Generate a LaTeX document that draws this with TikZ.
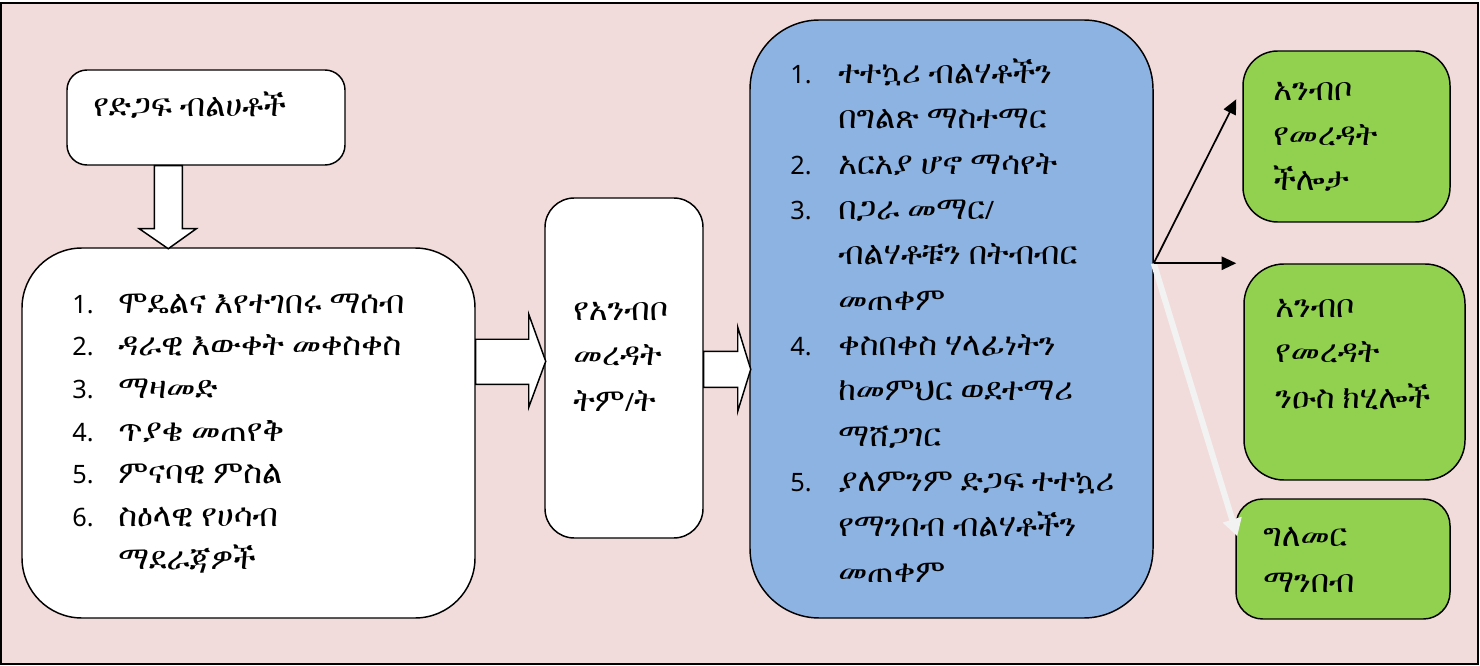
\documentclass[tikz,border=0pt]{standalone}
\usepackage{fontspec}
\usetikzlibrary{fit,arrows.meta,calc}
\setmainfont{Noto Sans}
\newfontfamily\eth{FreeSerif}
\newfontfamily\lat{Noto Sans}
\definecolor{bgpink}{HTML}{F2DCDB}
\definecolor{boxblue}{HTML}{8DB3E2}
\definecolor{boxgreen}{HTML}{92D050}
\definecolor{arrwhite}{HTML}{F2F2F2}
\newcommand\itma[1]{\makebox[34.5pt][l]{\lat\fontsize{19}{19}\selectfont #1}}
\newcommand\itmb[1]{\makebox[36pt][l]{\lat\fontsize{19}{19}\selectfont #1}}
\newcommand\slsh{{\lat\fontsize{19}{19}\selectfont /}}
\begin{document}
\begin{tikzpicture}[x=0.75pt,y=-0.75pt,
  box/.style={draw=black, line width=1.1pt, inner sep=0pt},
  blockarrow/.style={draw=black, line width=1.1pt, fill=white, line join=miter},
  txt/.style={anchor=base west, align=left, inner sep=0pt, font=\eth\fontsize{24}{34}\selectfont},
  txta/.style={txt, font=\eth\fontsize{24}{32}\selectfont},
  blk/.style={draw=black, line width=1.3pt, -{Triangle[length=11pt,width=10pt]}},
  wht/.style={draw=arrwhite, line width=4.5pt, -{Triangle[length=13pt,width=14pt]}}]
\useasboundingbox (0,0) rectangle (1480,666);
\node[draw=black, fill=bgpink, line width=1pt, fit={(1,3)(1478,664)}, inner sep=0pt] (frame) {};
% boxes
\node[box, fit={(67,70)(345,165)}, fill=white, rounded corners=15pt] (b1) {};
\node[box, fit={(22,248)(475,618)}, fill=white, rounded corners=45pt] (b2) {};
\node[box, fit={(545,198)(703,538)}, fill=white, rounded corners=22pt] (b3) {};
\node[box, fit={(750,20)(1153,618)}, fill=boxblue, rounded corners=52pt] (b4) {};
\node[box, fit={(1243,51)(1450,222)}, fill=boxgreen, rounded corners=26pt] (g1) {};
\node[box, fit={(1244,264)(1465,480)}, fill=boxgreen, rounded corners=30pt] (g2) {};
\node[box, fit={(1236,499)(1450,619)}, fill=boxgreen, rounded corners=20pt] (g3) {};
% block arrows
\draw[blockarrow] (b1.south west) ++(88,0) -- ++(0,63) -- ++(-15,0) -- ++(29,20) -- ++(28,-20) -- ++(-14,0) -- ++(0,-63) -- cycle;
\draw[blockarrow] (b2.north east) ++(0,92) -- ++(53,0) -- ++(0,-25) -- ++(17,47) -- ++(-17,46) -- ++(0,-23) -- ++(-53,0) -- cycle;
\draw[blockarrow] (b3.north east) ++(0,154) -- ++(34,0) -- ++(0,-24) -- ++(13,42) -- ++(-13,42) -- ++(0,-24) -- ++(-34,0) -- cycle;
% connectors
\coordinate (src) at ($(b4.north east)+(0,244)$);
\coordinate (e1) at ($(g1.north west)+(-6,49)$);
\coordinate (e2) at ($(g2.north west)+(-7,0)$);
\coordinate (e3) at ($(g3.north west)+(2,38)$);
\draw[wht] (src) -- (e3);
\draw[blk] (src) -- (e1);
\draw[blk] (src) -- (e2);
% texts (anchored at the baseline of the last line)
\node[txt] (tb1) at (93,117) {የድጋፍ ብልሀቶች};
\node[txta] (tb2) at (72,569) {\itma{1.}ሞዴልና እየተገበሩ ማሰብ\\
\itma{2.}ዳራዊ እውቀት መቀስቀስ\\
\itma{3.}ማዛመድ\\
\itma{4.}ጥያቄ መጠየቅ\\
\itma{5.}ምናባዊ ምስል\\
\itma{6.}ስዕላዊ የሀሳብ\\
\itma{}ማደራጃዎች};
\node[txt] (tb3) at (573,411) {የአንብቦ\\ መረዳት\\ ትም\slsh ት};
\node[txt] (tb4) at (790,582) {\itmb{1.}ተተኳሪ ብልሃቶችን\\
\itmb{}በግልጽ ማስተማር\\
\itmb{2.}አርአያ ሆኖ ማሳየት\\
\itmb{3.}በጋራ መማር\slsh\\
\itmb{}ብልሃቶቹን በትብብር\\
\itmb{}መጠቀም\\
\itmb{4.}ቀስበቀስ ሃላፊነትን\\
\itmb{}ከመምህር ወደተማሪ\\
\itmb{}ማሸጋገር\\
\itmb{5.}ያለምንም ድጋፍ ተተኳሪ\\
\itmb{}የማንበብ ብልሃቶችን\\
\itmb{}መጠቀም};
\node[txt] (tg1) at (1273,191) {አንብቦ\\ የመረዳት\\ ችሎታ};
\node[txt] (tg2) at (1275,408) {አንብቦ\\ የመረዳት\\ ንዑስ ክሂሎች};
\node[txt] (tg3) at (1263,592) {ግለመር\\ ማንበብ};
\end{tikzpicture}
\end{document}
